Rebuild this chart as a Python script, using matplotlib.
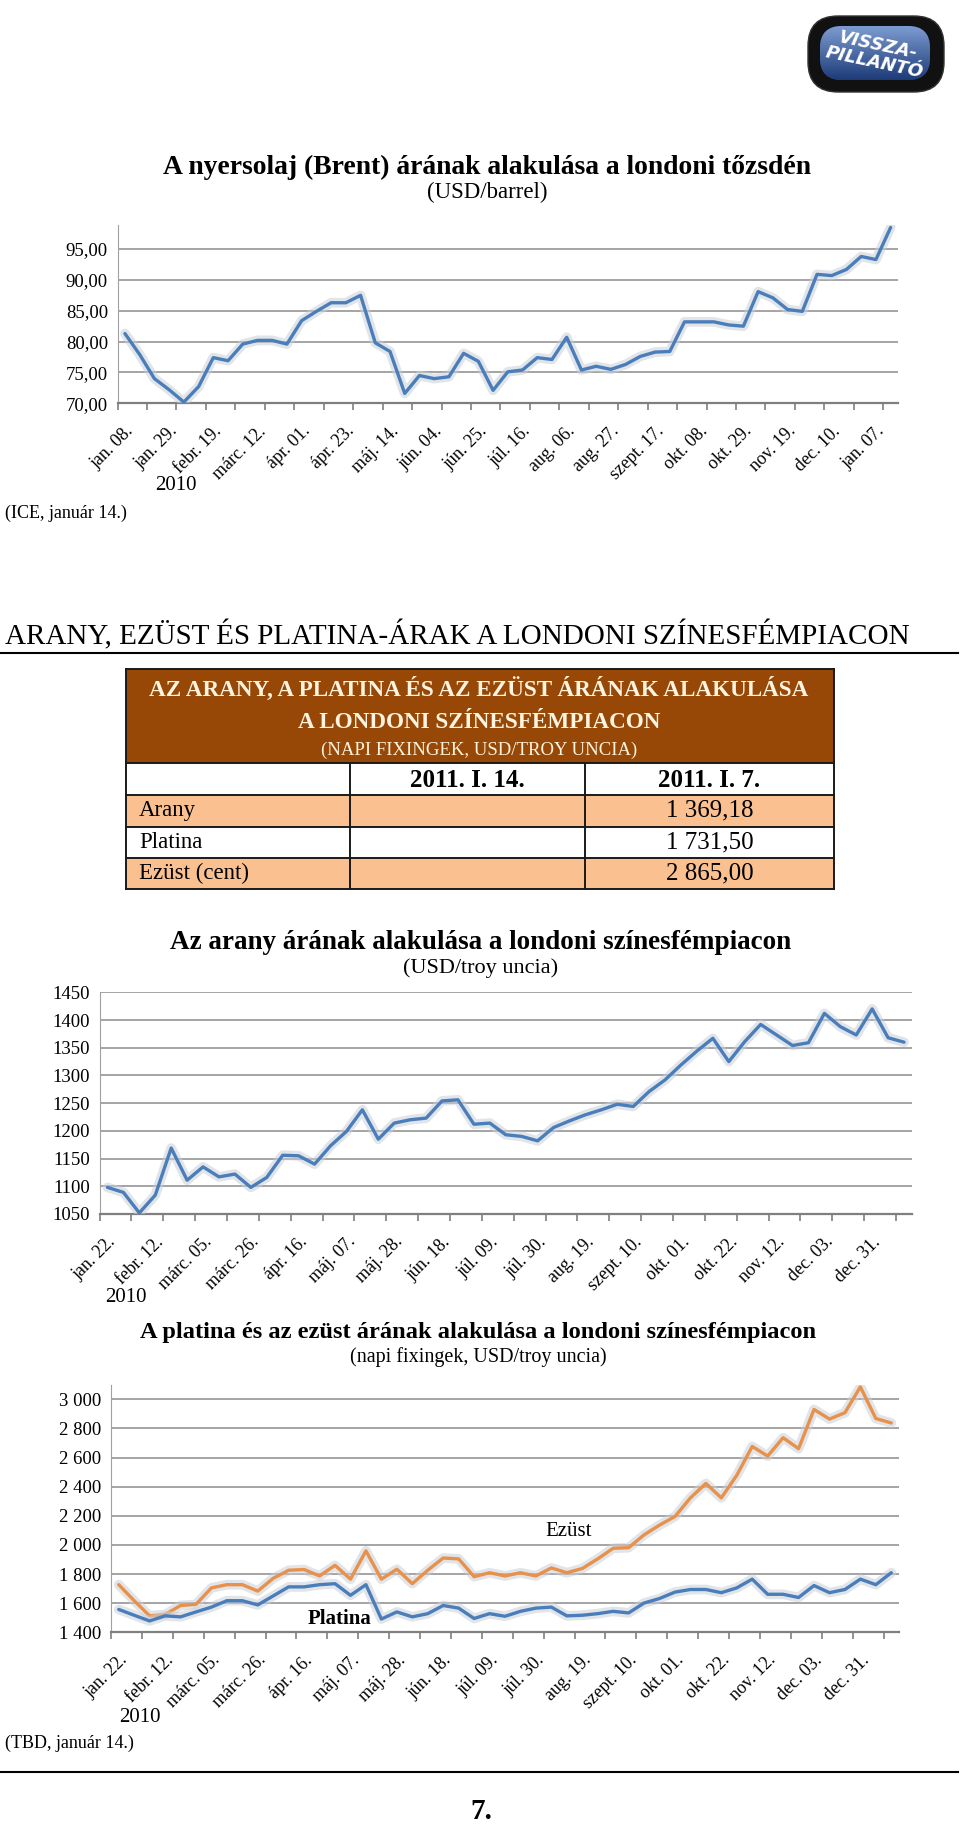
import numpy as np
import matplotlib
matplotlib.use("Agg")
import matplotlib.pyplot as plt
from matplotlib.patches import Rectangle, FancyBboxPatch
from matplotlib.colors import LinearSegmentedColormap
from matplotlib.ticker import FixedLocator, FuncFormatter, NullFormatter
import matplotlib.patheffects as pe

plt.rcParams['font.family'] = ['Liberation Serif', 'DejaVu Serif']

W, H = 960, 1842

# --- data -------------------------------------------------------------
oil_labels = ["jan. 08.", "jan. 29.", "febr. 19.", "márc. 12.", "ápr. 01.", "ápr. 23.",
              "máj. 14.", "jún. 04.", "jún. 25.", "júl. 16.", "aug. 06.", "aug. 27.",
              "szept. 17.", "okt. 08.", "okt. 29.", "nov. 19.", "dec. 10.", "jan. 07."]
oil_brent = [81.3, 77.9, 74.0, 72.2, 70.2, 72.7, 77.4, 76.9, 79.6, 80.2, 80.2, 79.6, 83.4,
             84.9, 86.3, 86.3, 87.5, 79.8, 78.4, 71.6, 74.5, 74.0, 74.3, 78.1, 76.8, 72.1,
             75.1, 75.4, 77.4, 77.1, 80.7, 75.4, 76.0, 75.5, 76.3, 77.6, 78.3, 78.4, 83.2,
             83.2, 83.2, 82.7, 82.5, 88.1, 87.1, 85.2, 84.9, 90.9, 90.7, 91.7, 93.8, 93.3, 98.5]

metal_labels = ["jan. 22.", "febr. 12.", "márc. 05.", "márc. 26.", "ápr. 16.", "máj. 07.",
                "máj. 28.", "jún. 18.", "júl. 09.", "júl. 30.", "aug. 19.", "szept. 10.",
                "okt. 01.", "okt. 22.", "nov. 12.", "dec. 03.", "dec. 31."]
gold_usd = [1098, 1089, 1052, 1084, 1169, 1111, 1135, 1117, 1122, 1098, 1116, 1156, 1155,
            1140, 1173, 1199, 1238, 1185, 1214, 1220, 1223, 1254, 1256, 1212, 1214, 1193,
            1190, 1182, 1206, 1218, 1229, 1238, 1248, 1244, 1271, 1292, 1319, 1344, 1367,
            1325, 1361, 1392, 1373, 1354, 1359, 1412, 1388, 1373, 1420, 1368, 1360]
silver_cent = [1727, 1617, 1513, 1522, 1584, 1592, 1705, 1727, 1727, 1683, 1771, 1826, 1831,
               1787, 1860, 1765, 1959, 1765, 1833, 1734, 1826, 1910, 1904, 1782, 1809, 1787,
               1809, 1787, 1842, 1809, 1838, 1904, 1977, 1981, 2069, 2136, 2195, 2323, 2422,
               2323, 2478, 2676, 2610, 2736, 2661, 2930, 2864, 2908, 3085, 2868, 2837]
platinum_usd = [1557, 1517, 1478, 1513, 1506, 1540, 1573, 1617, 1617, 1588, 1650, 1712, 1712,
                1727, 1734, 1654, 1727, 1491, 1540, 1506, 1528, 1584, 1566, 1495, 1528, 1510,
                1544, 1566, 1573, 1513, 1517, 1528, 1544, 1533, 1601, 1632, 1676, 1694, 1694,
                1672, 1705, 1765, 1661, 1661, 1639, 1721, 1672, 1694, 1765, 1727, 1809]

table_rows = ["Arany", "Platina", "Ezüst (cent)"]
table_cols = ["2011. I. 14.", "2011. I. 7."]
table_jan14 = ["", "", ""]
table_jan7 = ["1 369,18", "1 731,50", "2 865,00"]

BLUE = '#4A7EBB'
ORANGE = '#E8914A'
GRID = '#8C8C8C'
BROWN = '#974806'
PEACH = '#FAC090'

fig = plt.figure(figsize=(W / 100, H / 100), dpi=100)
bg = fig.add_axes([0, 0, 1, 1], zorder=0)
bg.set_xlim(0, W)
bg.set_ylim(H, 0)
bg.axis('off')


def px_axes(left, top, right, bottom):
    return fig.add_axes([left / W, 1 - bottom / H, (right - left) / W, (bottom - top) / H], zorder=2)


glow = [pe.Stroke(linewidth=7, foreground='#C9CED8', alpha=0.55), pe.Normal()]


def line_chart(ax, series, colors, labels, ylim, yticks, fmt):
    n = len(series[0])
    x = np.arange(n)
    for s, c in zip(series, colors):
        ax.plot(x, s, color=c, lw=2.4, solid_joinstyle='round', solid_capstyle='round',
                path_effects=glow, zorder=3)
    ax.set_xlim(-0.5, n - 0.5)
    ax.set_ylim(*ylim)
    ax.set_yticks(yticks)
    ax.yaxis.set_major_formatter(FuncFormatter(fmt))
    ax.grid(axis='y', color=GRID, lw=1.1)
    ax.set_axisbelow(True)
    for sp in ('top', 'right'):
        ax.spines[sp].set_visible(False)
    ax.spines['left'].set_color('#A0A0A0')
    ax.spines['bottom'].set_color('#7F7F7F')
    ax.spines['bottom'].set_linewidth(1.6)
    ax.xaxis.set_major_locator(FixedLocator(np.arange(-0.5, n, 2)))
    ax.xaxis.set_major_formatter(NullFormatter())
    ax.set_xticks(np.arange(0, 3 * len(labels), 3), minor=True)
    ax.set_xticklabels(labels, minor=True, rotation=45, ha='right', va='top',
                       rotation_mode='anchor', fontsize=13)
    ax.tick_params(axis='x', which='major', length=5, width=1.2, color='#7F7F7F', direction='out')
    ax.tick_params(axis='x', which='minor', length=0, pad=14)
    ax.tick_params(axis='y', length=0, labelsize=13.5, pad=7)
    ax.set_facecolor('none')


# --- logo --------------------------------------------------------------
bg.add_patch(FancyBboxPatch((812, 20), 128, 68, boxstyle="round,pad=4,rounding_size=30",
                            fc='#111111', ec='#333333', lw=1))
inner = FancyBboxPatch((822, 28), 106, 50, boxstyle="round,pad=2,rounding_size=22",
                       fc='#2C4F8F', ec='none')
bg.add_patch(inner)
grad = np.linspace(0, 1, 50).reshape(-1, 1)
img = bg.imshow(grad, extent=(818, 932, 80, 26),
                cmap=LinearSegmentedColormap.from_list('m', ['#7C9BD0', '#1E3C78']),
                aspect='auto', zorder=1)
img.set_clip_path(inner)
bg.text(876, 54, "VISSZA-\nPILLANTÓ", color='white', fontsize=13, weight='bold', style='italic',
        family=['DejaVu Sans'], rotation=-12, ha='center', va='center', linespacing=0.95, zorder=3)

# --- oil chart ---------------------------------------------------------
bg.text(487, 167, "A nyersolaj (Brent) árának alakulása a londoni tőzsdén", fontsize=19.9,
        weight='bold', ha='center', va='center')
bg.text(487, 192, "(USD/barrel)", fontsize=16.5, ha='center', va='center')
ax1 = px_axes(117.6, 225, 898, 403.3)
line_chart(ax1, [oil_brent], [BLUE], oil_labels, (70, 98.9), np.arange(70, 96, 5),
           lambda v, p: f"{v:.2f}".replace('.', ','))
bg.text(176, 485, "2010", fontsize=15, ha='center', va='center')
bg.text(5, 513, "(ICE, január 14.)", fontsize=13, ha='left', va='center')

# --- section header ----------------------------------------------------
bg.text(5, 635, "ARANY, EZÜST ÉS PLATINA-ÁRAK A LONDONI SZÍNESFÉMPIACON", fontsize=21,
        ha='left', va='center')
bg.plot([0, 958], [653, 653], color='black', lw=1.5)

# --- table -------------------------------------------------------------
tl, tr = 125.5, 834
c1, c2 = 350, 585
top, hb = 669.3, 763.3
row_edges = [763.3, 795, 826.7, 857.7, 889.3]
bg.add_patch(Rectangle((tl, top), tr - tl, hb - top, fc=BROWN, ec='none'))
for i in range(len(table_rows)):
    fc = PEACH if i % 2 == 0 else 'white'
    bg.add_patch(Rectangle((tl, row_edges[i + 1]), tr - tl, row_edges[i + 2] - row_edges[i + 1],
                           fc=fc, ec='none'))
for y in [top] + row_edges:
    bg.plot([tl, tr], [y, y], color='#1A1A1A', lw=1.4)
for xv in (tl, tr):
    bg.plot([xv, xv], [top, row_edges[-1]], color='#1A1A1A', lw=1.4)
for xv in (c1, c2):
    bg.plot([xv, xv], [hb, row_edges[-1]], color='#1A1A1A', lw=1.4)
cream = '#FFF4E0'
bg.text(479, 689, "AZ ARANY, A PLATINA ÉS AZ EZÜST ÁRÁNAK ALAKULÁSA", color=cream, fontsize=16.7,
        weight='bold', ha='center', va='center')
bg.text(479, 722, "A LONDONI SZÍNESFÉMPIACON", color=cream, fontsize=16.7, weight='bold',
        ha='center', va='center')
bg.text(479, 750, "(NAPI FIXINGEK, USD/TROY UNCIA)", color=cream, fontsize=13.5,
        ha='center', va='center')
bg.text((c1 + c2) / 2, 780, table_cols[0], fontsize=18, weight='bold', ha='center', va='center')
bg.text((c2 + tr) / 2, 780, table_cols[1], fontsize=18, weight='bold', ha='center', va='center')
for i, (name, v14, v7) in enumerate(zip(table_rows, table_jan14, table_jan7)):
    yc = (row_edges[i + 1] + row_edges[i + 2]) / 2
    bg.text(139, yc, name, fontsize=16.5, ha='left', va='center')
    bg.text(754, yc, v7, fontsize=18, ha='right', va='center')
    bg.text(555, yc, v14, fontsize=18, ha='right', va='center')

# --- gold chart --------------------------------------------------------
bg.text(481, 942, "Az arany árának alakulása a londoni színesfémpiacon", fontsize=19.5,
        weight='bold', ha='center', va='center')
bg.text(481, 968, "(USD/troy uncia)", fontsize=16, ha='center', va='center')
ax2 = px_axes(99.5, 992.3, 912, 1214)
line_chart(ax2, [gold_usd], [BLUE], metal_labels, (1050, 1450), np.arange(1050, 1451, 50),
           lambda v, p: f"{int(v)}")
bg.text(126, 1297, "2010", fontsize=15, ha='center', va='center')

# --- platinum / silver chart ------------------------------------------
bg.text(478, 1332, "A platina és az ezüst árának alakulása a londoni színesfémpiacon", fontsize=17.6,
        weight='bold', ha='center', va='center')
bg.text(478, 1357, "(napi fixingek, USD/troy uncia)", fontsize=14.5, ha='center', va='center')
ax3 = px_axes(111, 1385, 899, 1632.3)
line_chart(ax3, [silver_cent, platinum_usd], [ORANGE, BLUE], metal_labels, (1400, 3098),
           np.arange(1400, 3001, 200), lambda v, p: f"{int(v):,}".replace(',', ' '))
ax3.text(29.1, 2089, "Ezüst", fontsize=15, ha='center', va='center')
ax3.text(14.3, 1491, "Platina", fontsize=15, weight='bold', ha='center', va='center')
bg.text(140, 1717, "2010", fontsize=15, ha='center', va='center')
bg.text(5, 1743, "(TBD, január 14.)", fontsize=13, ha='left', va='center')
bg.plot([0, 958], [1772, 1772], color='black', lw=1.5)
bg.text(481, 1811, "7.", fontsize=21, weight='bold', ha='center', va='center')

fig.savefig("out.png", dpi=100)
